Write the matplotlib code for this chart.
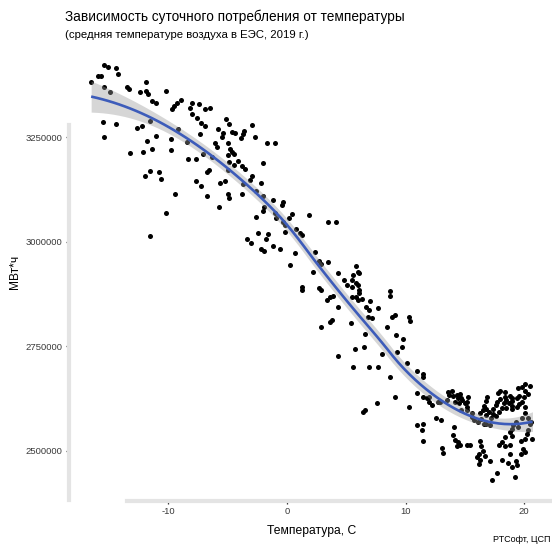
import numpy as np
import matplotlib
matplotlib.use("Agg")
import matplotlib.pyplot as plt

plt.rcParams["font.family"] = ["Liberation Sans", "DejaVu Sans"]

# Daily consumption vs. mean daily air temperature, 2019
# (temperature in °C, consumption in thousand MWh)
temp_cold = [
    -15.4, -15.1, -14.4, -14.2, -15.9, -15.7, -16.5, -15.4, -14.9, -13.5,
    -13.3, -11.9, -12.4, -11.9, -11.7, -10.2, -11.4, -11.0, -8.9, -9.3,
    -9.5, -9.7, -8.0, -7.4, -8.2, -8.0, -6.9, -6.5, -7.6, -7.2,
    -6.9, -15.5, -14.4, -15.4, -12.6, -12.2, -11.5, -11.0, -13.2, -12.1,
    -11.8, -11.4, -9.8, -9.8, -9.2, -8.4, -7.3, -8.3, -7.7, -7.1,
    -12.0, -11.5, -10.8, -10.6, -9.4, -7.7, -7.2, -6.7, -6.7, -6.6,
    -5.6, -5.2, -5.7, -10.2, -11.5, -5.0, -4.9, -5.1, -4.9, -5.8,
    -5.4, -5.5, -6.1, -5.9, -5.0, -4.8, -4.6, -5.0, -4.9, -6.3,
    -4.6, -4.5, -5.0,
]
cons_cold = [
    3424, 3419, 3417, 3403, 3398, 3398, 3383, 3371, 3360, 3371,
    3367, 3383, 3360, 3362, 3355, 3362, 3338, 3333, 3340, 3333,
    3326, 3319, 3333, 3331, 3321, 3307, 3319, 3321, 3297, 3285,
    3278, 3288, 3283, 3252, 3273, 3278, 3290, 3254, 3213, 3216,
    3242, 3223, 3247, 3220, 3271, 3240, 3259, 3199, 3199, 3211,
    3158, 3170, 3168, 3151, 3115, 3146, 3134, 3110, 3168, 3173,
    3141, 3146, 3084, 3069, 3014, 3115, 3105, 3295, 3283, 3271,
    3261, 3252, 3237, 3228, 3237, 3223, 3216, 3208, 3192, 3204,
    3264, 3185, 3173,
]

temp_cool = [
    -4.4, -3.6, -3.7, -3.9, -2.9, -2.7, -1.7, -1.0, -4.5, -4.1,
    -3.8, -3.5, -2.0, -2.9, -3.1, -3.7, -2.2, -3.8, -2.6, -2.0,
    -1.2, -0.3, -0.4, -1.9, -2.0, -2.6, -1.0, -0.9, 0.4, 0.2,
    1.9, -0.3, -0.2, 0.8, 1.1, 1.3, -0.2, 3.5, 4.1, -2.4,
    -1.6, -3.4, -3.0, -1.8, -1.2, -0.6, -2.2, -1.9, 0.7, 0.3,
    2.4, 2.7, 2.9, 3.5, 2.2, 4.3, 5.8, 6.0, 5.6, 5.5,
    5.8, 4.8, 5.1, 1.3, 2.7,
]
cons_cool = [
    3261, 3266, 3259, 3249, 3280, 3252, 3237, 3237, 3211, 3194,
    3182, 3175, 3189, 3158, 3149, 3139, 3141, 3115, 3122, 3110,
    3101, 3096, 3089, 3084, 3074, 3060, 3069, 3057, 3067, 3057,
    3065, 3048, 3041, 3031, 3022, 3017, 3024, 3048, 3048, 3022,
    3019, 3007, 2998, 3007, 2990, 2983, 2983, 2978, 2974, 2945,
    2976, 2954, 2947, 2952, 2928, 2926, 2942, 2928, 2921, 2909,
    2902, 2909, 2897, 2892, 2890,
]

temp_mild = [
    6.1, 6.0, 6.1, 6.1, 5.8, 6.0, 6.3, 5.5, 5.5, 1.3,
    2.9, 3.6, 3.9, 3.4, 4.3, 6.7, 6.9, 7.7, 7.0, 8.7,
    8.7, 6.8, 7.2, 9.1, 8.9, 3.8, 3.6, 2.9, 5.4, 8.4,
    10.3, 10.4, 6.6, 9.2, 9.8, 9.7, 9.3, 4.3, 5.7, 6.5,
    8.0, 5.6, 6.9, 7.7, 10.1, 8.7, 11.0, 11.5, 11.5, 11.0,
    11.5, 11.8, 9.1, 10.3, 7.6, 6.6, 6.4,
]
cons_mild = [
    2926, 2897, 2885, 2878, 2868, 2861, 2863, 2892, 2868, 2885,
    2885, 2868, 2870, 2861, 2844, 2844, 2837, 2842, 2858, 2882,
    2870, 2820, 2818, 2825, 2820, 2813, 2808, 2796, 2806, 2796,
    2820, 2811, 2779, 2777, 2767, 2748, 2736, 2727, 2743, 2748,
    2731, 2700, 2700, 2700, 2710, 2676, 2691, 2684, 2676, 2638,
    2628, 2626, 2628, 2604, 2614, 2597, 2592,
]

temp_warm = [
    12.0, 11.0, 11.5, 11.4, 11.5, 12.7, 12.6, 13.0, 13.1, 13.2,
    13.6, 13.9, 13.7, 14.0, 14.3, 14.6, 14.4, 14.7, 14.8, 14.2,
    14.5, 15.0, 15.2, 15.2, 15.2, 14.7, 15.6, 15.3, 14.1, 14.2,
    14.4, 14.6, 14.3, 15.2, 15.4, 14.0, 15.6, 15.8, 16.1, 16.4,
    16.6, 16.8, 17.1, 16.3, 16.8, 16.3, 16.4, 16.5, 16.2, 16.0,
    16.3, 16.2, 16.7, 17.1, 16.9, 16.8, 16.6, 16.8, 17.0, 16.5,
    17.8, 18.0, 18.4, 18.8, 18.4, 18.5, 18.0, 18.3, 17.7, 18.1,
    17.6, 17.4, 17.9, 17.4, 17.6, 17.2, 19.0, 19.4, 19.0, 18.7,
    19.6, 19.8, 18.5, 19.0, 19.4, 19.0, 19.5, 19.8, 20.1, 20.5,
    20.1, 20.3, 20.0, 19.6, 20.6, 20.5, 20.7, 20.1, 20.1, 19.8,
    20.3, 19.3, 19.1, 19.5, 19.0, 18.8, 19.0, 18.4, 19.9, 20.1,
    19.7, 20.3, 20.2, 20.1, 19.7, 17.9, 18.1, 18.4, 18.8, 18.8,
    18.1, 18.6, 19.3, 19.0, 19.4, 17.7, 17.3, 19.2, 12.2, 12.9,
    13.5, 12.0,
]
cons_warm = [
    2616, 2561, 2564, 2549, 2523, 2616, 2578, 2573, 2506, 2494,
    2640, 2643, 2633, 2631, 2633, 2636, 2626, 2626, 2621, 2616,
    2614, 2614, 2604, 2597, 2616, 2597, 2590, 2628, 2557, 2525,
    2521, 2513, 2511, 2513, 2513, 2537, 2580, 2573, 2568, 2576,
    2564, 2564, 2561, 2590, 2585, 2523, 2511, 2499, 2492, 2485,
    2477, 2468, 2487, 2475, 2628, 2619, 2607, 2600, 2592, 2597,
    2638, 2643, 2640, 2631, 2628, 2621, 2624, 2614, 2616, 2602,
    2609, 2600, 2592, 2588, 2583, 2578, 2626, 2626, 2619, 2614,
    2612, 2616, 2602, 2607, 2604, 2600, 2650, 2652, 2660, 2655,
    2643, 2636, 2628, 2631, 2568, 2564, 2528, 2604, 2590, 2578,
    2578, 2568, 2561, 2557, 2552, 2545, 2535, 2533, 2504, 2497,
    2492, 2549, 2540, 2528, 2523, 2513, 2521, 2511, 2513, 2492,
    2477, 2470, 2475, 2461, 2465, 2446, 2429, 2437, 2609, 2616,
    2621, 2628,
]

x_ticks = [-10, 0, 10, 20]
y_ticks = [2500000, 2750000, 3000000, 3250000]
y_tick_labels = ["2500000", "2750000", "3000000", "3250000"]

title = "Зависимость суточного потребления от температуры"
subtitle = "(средняя температуре воздуха в ЕЭС, 2019 г.)"
x_label = "Температура, С"
y_label = "МВт*ч"
caption = "РТСофт, ЦСП"

temperature = np.array(temp_cold + temp_cool + temp_mild + temp_warm, dtype=float)
consumption = np.array(cons_cold + cons_cool + cons_mild + cons_warm, dtype=float) * 1000.0


def loess_rows(x, x_eval, span=0.75):
    """Rows of the local quadratic (tricube-weighted) smoother matrix."""
    n = len(x)
    q = int(np.floor(n * span))
    rows = []
    for x0 in x_eval:
        d = np.abs(x - x0)
        h = np.sort(d)[q - 1]
        w = np.clip(1 - (d / h) ** 3, 0, None) ** 3
        X = np.column_stack([np.ones(n), x - x0, (x - x0) ** 2])
        WX = X * w[:, None]
        rows.append(np.linalg.solve(X.T @ WX, WX.T)[0])
    return np.array(rows)


# local regression fit with a 95% confidence band
L_data = loess_rows(temperature, temperature)
resid = consumption - L_data @ consumption
delta1 = len(temperature) - 2 * np.trace(L_data) + np.sum(L_data ** 2)
sigma = np.sqrt(np.sum(resid ** 2) / delta1)

grid = np.linspace(temperature.min(), temperature.max(), 80)
L_grid = loess_rows(temperature, grid)
fit = L_grid @ consumption
se = sigma * np.sqrt(np.sum(L_grid ** 2, axis=1))
t_crit = 1.967

W, H = 552, 549
fig = plt.figure(figsize=(W / 100, H / 100), dpi=100)
fig.patch.set_facecolor("white")
ax = fig.add_axes([68.6 / W, 48 / H, (555 - 68.6) / W, 457 / H])
ax.set_facecolor("white")

ax.scatter(temperature, consumption, s=13, color="black", linewidths=0, zorder=2)
ax.fill_between(grid, fit - t_crit * se, fit + t_crit * se,
                color="#999999", alpha=0.4, linewidth=0, zorder=3)
ax.plot(grid, fit, color="#3d5cba", lw=1.9, zorder=4, solid_capstyle="butt")

ax.set_xlim(-18.4, 22.6)
ax.set_ylim(2379000, 3474000)
ax.set_xticks(x_ticks)
ax.set_xticklabels([str(t) for t in x_ticks])
ax.set_yticks(y_ticks)
ax.set_yticklabels(y_tick_labels)

for side in ("top", "right"):
    ax.spines[side].set_visible(False)
for side in ("left", "bottom"):
    ax.spines[side].set_color("#e4e4e4")
    ax.spines[side].set_linewidth(3.0)
ax.spines["left"].set_bounds(2381000, 3280000)
ax.spines["bottom"].set_bounds(-13.5, 22.6)

ax.tick_params(axis="both", length=2.5, width=0.9, color="#333333",
               labelsize=6.8, labelcolor="#3a3a3a", pad=2)

fig.text(65 / W, 1 - 17 / H, title, fontsize=9.8, ha="left", va="center", color="black")
fig.text(65 / W, 1 - 35 / H, subtitle, fontsize=8.2, ha="left", va="center", color="black")
fig.text(312 / W, 1 - 531 / H, x_label, fontsize=8.7, ha="center", va="center", color="black")
fig.text(15 / W, 1 - 272 / H, y_label, fontsize=8.6, rotation=90, ha="center", va="center",
         color="black")
fig.text(493 / W, 1 - 540 / H, caption, fontsize=6.5, ha="left", va="center", color="black")

fig.savefig("out.png", dpi=100, facecolor="white")
